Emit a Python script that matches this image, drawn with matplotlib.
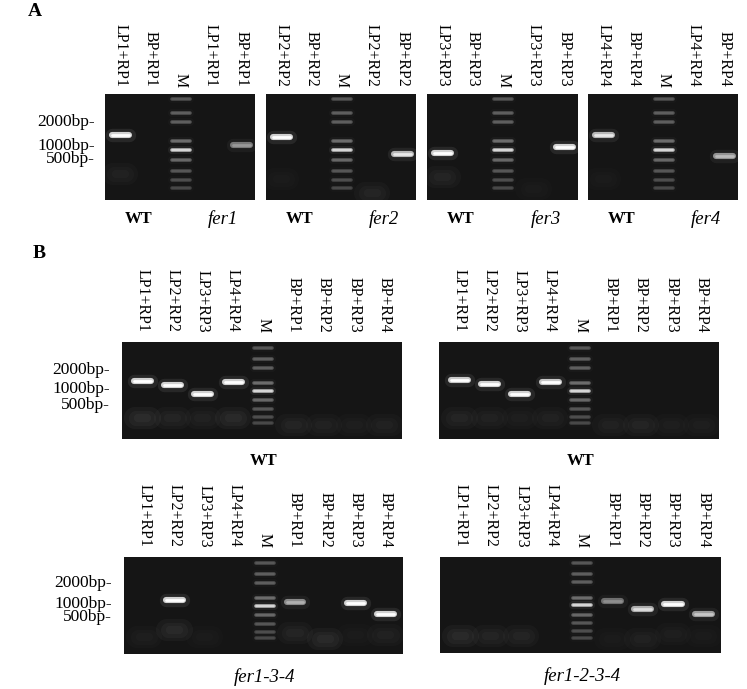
import numpy as np
import matplotlib.pyplot as plt

plt.rcParams['font.family'] = ['Liberation Serif', 'DejaVu Serif']

# ---- lane labels ----
lanes_a1 = ["LP1+RP1", "BP+RP1", "M", "LP1+RP1", "BP+RP1"]
lanes_a2 = ["LP2+RP2", "BP+RP2", "M", "LP2+RP2", "BP+RP2"]
lanes_a3 = ["LP3+RP3", "BP+RP3", "M", "LP3+RP3", "BP+RP3"]
lanes_a4 = ["LP4+RP4", "BP+RP4", "M", "LP4+RP4", "BP+RP4"]
lanes_b = ["LP1+RP1", "LP2+RP2", "LP3+RP3", "LP4+RP4", "M",
           "BP+RP1", "BP+RP2", "BP+RP3", "BP+RP4"]

groups_a1 = ["WT", "fer1"]
groups_a2 = ["WT", "fer2"]
groups_a3 = ["WT", "fer3"]
groups_a4 = ["WT", "fer4"]
groups_b = ["WT", "WT", "fer1-3-4", "fer1-2-3-4"]

# marker ladder (migration as fraction of gel length, 0 = well)
ladder_a = [0.05, 0.18, 0.26, 0.44, 0.53, 0.62, 0.73, 0.81, 0.89]
ladder_b = [0.06, 0.18, 0.265, 0.425, 0.50, 0.60, 0.69, 0.77, 0.84]
ladder_int = [0.22, 0.26, 0.26, 0.32, 0.80, 0.30, 0.22, 0.18, 0.16]

bp_labels = ["2000bp-", "1000bp-", "500bp-"]
bp_pos_a = [0.245, 0.47, 0.595]
bp_pos_b1 = [0.27, 0.46, 0.63]
bp_pos_b3 = [0.25, 0.46, 0.60]

# PCR bands: (lane index, migration, intensity)
bands_a1 = ([0, 4], [0.39, 0.48], [1.0, 0.5])
bands_a2 = ([0, 4], [0.41, 0.57], [1.0, 0.85])
bands_a3 = ([0, 4], [0.56, 0.50], [1.0, 1.0])
bands_a4 = ([0, 4], [0.39, 0.585], [0.85, 0.65])
bands_b1 = ([0, 1, 2, 3], [0.40, 0.44, 0.54, 0.41], [1.0, 1.0, 1.0, 1.0])
bands_b2 = ([0, 1, 2, 3], [0.39, 0.43, 0.54, 0.41], [0.95, 1.0, 1.0, 0.95])
bands_b3 = ([1, 5, 7, 8], [0.44, 0.46, 0.47, 0.59], [1.0, 0.6, 1.0, 1.0])
bands_b4 = ([5, 6, 7, 8], [0.455, 0.545, 0.49, 0.595], [0.45, 0.8, 1.0, 0.7])

# primer-dimer smear near the bottom
smear_a1 = ([0], [0.75], [0.15])
smear_a2 = ([0, 3], [0.80, 0.93], [0.10, 0.20])
smear_a3 = ([0, 3], [0.78, 0.90], [0.20, 0.10])
smear_a4 = ([0], [0.80], [0.10])
smear_b1 = ([0, 1, 2, 3, 5, 6, 7, 8], [0.78, 0.78, 0.78, 0.78, 0.86, 0.86, 0.86, 0.86],
            [0.30, 0.20, 0.15, 0.25, 0.20, 0.15, 0.12, 0.15])
smear_b2 = ([0, 1, 2, 3, 5, 6, 7, 8], [0.78, 0.78, 0.78, 0.78, 0.86, 0.86, 0.86, 0.86],
            [0.20, 0.15, 0.12, 0.15, 0.15, 0.20, 0.12, 0.12])
smear_b3 = ([0, 1, 2, 5, 6, 7, 8], [0.82, 0.75, 0.82, 0.78, 0.85, 0.80, 0.80],
            [0.12, 0.25, 0.10, 0.20, 0.25, 0.10, 0.15])
smear_b4 = ([0, 1, 2, 5, 6, 7, 8], [0.82, 0.82, 0.82, 0.85, 0.85, 0.80, 0.82],
            [0.25, 0.20, 0.20, 0.10, 0.15, 0.12, 0.10])

W, H = 747, 689


def px_axes(fig, x0, y0, x1, y1):
    return fig.add_axes([x0 / W, 1 - y1 / H, (x1 - x0) / W, (y1 - y0) / H])


def draw_band(ax, lane, pos, inten, half=0.28, lw=4.4):
    x = [lane - half, lane + half]
    y = [pos, pos]
    ax.plot(x, y, color='white', alpha=0.08 * inten, lw=lw * 2.2, solid_capstyle='round')
    g = 0.12 + 0.70 * inten
    ax.plot(x, y, color=(g, g, g), lw=lw, solid_capstyle='round')
    g2 = min(1.0, 0.15 + 0.9 * inten)
    ax.plot(x, y, color=(g2, g2, g2), lw=lw * 0.45, solid_capstyle='round')


def draw_gel(ax, labels, ladder, marker_lane, bands, smear, xlim, pad):
    ax.set_facecolor('#151515')
    for lane, pos, inten in zip(*smear):
        for w, h in [(16, 0.24), (11, 0.2), (6, 0.15)]:
            ax.plot([lane - h, lane + h], [pos, pos], color='white',
                    alpha=0.12 * inten, lw=w, solid_capstyle='round')
    for pos, inten in zip(ladder, ladder_int):
        draw_band(ax, marker_lane, pos, inten, half=0.3, lw=2.7)
    for lane, pos, inten in zip(*bands):
        draw_band(ax, lane, pos, inten)
    ax.set_xlim(*xlim)
    ax.set_ylim(1, 0)
    ax.xaxis.tick_top()
    ax.set_xticks(range(len(labels)))
    ax.set_xticklabels(labels, rotation=-90, fontsize=11.5)
    ax.tick_params(axis='x', length=0, pad=pad)
    ax.set_yticks([])
    for s in ax.spines.values():
        s.set_visible(False)


def add_bp(ax, pos, pad):
    ax.set_yticks(pos)
    ax.set_yticklabels(bp_labels, fontsize=12.5)
    ax.tick_params(axis='y', length=0, pad=pad)


def group_label(ax, x, text, dy):
    if text == "WT":
        kw = dict(fontweight='bold', fontsize=12)
    else:
        kw = dict(fontstyle='italic', fontsize=13.5)
    ax.annotate(text, xy=(x, 0), xycoords=('data', 'axes fraction'),
                xytext=(0, -dy), textcoords='offset points',
                ha='center', va='center', annotation_clip=False, **kw)


fig = plt.figure(figsize=(W / 100, H / 100), dpi=100)

# ---- panel A ----
a_boxes = [(105, 255), (266, 416), (427, 578), (588, 738)]
a_lanes = [lanes_a1, lanes_a2, lanes_a3, lanes_a4]
a_bands = [bands_a1, bands_a2, bands_a3, bands_a4]
a_smear = [smear_a1, smear_a2, smear_a3, smear_a4]
a_groups = [groups_a1, groups_a2, groups_a3, groups_a4]
for i in range(4):
    x0, x1 = a_boxes[i]
    ax = px_axes(fig, x0, 94, x1, 200)
    draw_gel(ax, a_lanes[i], ladder_a, 2, a_bands[i], a_smear[i], (-0.5, 4.45), 5)
    group_label(ax, 0.6, a_groups[i][0], 14)
    group_label(ax, 3.4, a_groups[i][1], 14)
    if i == 0:
        add_bp(ax, bp_pos_a, 7)

# ---- panel B ----
b_boxes = [(122, 342, 402, 439), (439, 342, 719, 439),
           (124, 557, 403, 654), (440, 557, 721, 653)]
b_bands = [bands_b1, bands_b2, bands_b3, bands_b4]
b_smear = [smear_b1, smear_b2, smear_b3, smear_b4]
b_bp = [bp_pos_b1, None, bp_pos_b3, None]
for i in range(4):
    ax = px_axes(fig, *b_boxes[i])
    draw_gel(ax, lanes_b, ladder_b, 4, b_bands[i], b_smear[i], (-0.67, 8.58), 7)
    group_label(ax, 4, groups_b[i], 15.5 if i < 2 else 16.5)
    if b_bp[i] is not None:
        add_bp(ax, b_bp[i], 8.5)

fig.text(35 / W, 1 - 11 / H, "A", fontsize=14, fontweight='bold', ha='center', va='center')
fig.text(39 / W, 1 - 254 / H, "B", fontsize=14, fontweight='bold', ha='center', va='center')

fig.savefig('out.png', dpi=100, facecolor='white')
